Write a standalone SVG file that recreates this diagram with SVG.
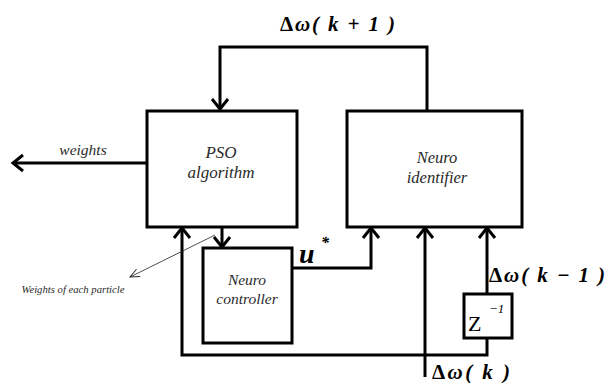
<svg xmlns="http://www.w3.org/2000/svg" width="613" height="383" viewBox="0 0 613 383">
  <style>
    text { font-family: "Liberation Serif", "Times New Roman", Tinos, "DejaVu Serif", serif; }
    .box { fill: #fff; stroke: #000; stroke-width: 3; }
    .wire { fill: none; stroke: #000; stroke-width: 3; }
    .thin { fill: none; stroke: #222; stroke-width: 0.8; }
    .lbl { font-style: italic; fill: #2a2a2a; text-anchor: middle; }
    .sig { font-style: italic; font-weight: bold; fill: #000; }
    .up { font-style: normal; }
  </style>
  <defs>
    <marker id="open" markerUnits="userSpaceOnUse" markerWidth="24" markerHeight="24" viewBox="-14 -12 18 24" refX="0" refY="0" orient="auto">
      <path d="M-10,-8 L0,0 L-10,8" fill="none" stroke="#000" stroke-width="3"/>
    </marker>
    <marker id="thinhead" markerUnits="userSpaceOnUse" markerWidth="14" markerHeight="14" viewBox="-10 -6 12 12" refX="0" refY="0" orient="auto">
      <path d="M-8,-3.5 L0,0 L-8,3.5" fill="none" stroke="#222" stroke-width="0.8"/>
    </marker>
  </defs>

  <g id="connectors">
    <polyline class="wire" points="427,110 427,47 220,47 220,109" marker-end="url(#open)"/>
    <line class="wire" x1="147" y1="163" x2="13" y2="163" marker-end="url(#open)"/>
    <line class="wire" x1="222" y1="227" x2="222" y2="247" marker-end="url(#open)"/>
    <polyline class="wire" points="292,268 371,268 371,228" marker-end="url(#open)"/>
    <line class="wire" x1="425" y1="377" x2="425" y2="228" marker-end="url(#open)"/>
    <line class="wire" x1="487" y1="294" x2="487" y2="228" marker-end="url(#open)"/>
    <polyline class="wire" points="487,338 487,355 182,355 182,228" marker-end="url(#open)"/>
    <line class="thin" x1="215" y1="235" x2="130" y2="277" marker-end="url(#thinhead)"/>
  </g>

  <g id="pso">
    <rect class="box" x="147" y="111" width="150" height="116"/>
    <text class="lbl" x="221" y="158" font-size="17">PSO</text>
    <text class="lbl" x="221" y="178" font-size="17">algorithm</text>
  </g>

  <g id="identifier">
    <rect class="box" x="347" y="111" width="175" height="116"/>
    <text class="lbl" x="437" y="163" font-size="16.5">Neuro</text>
    <text class="lbl" x="437" y="183" font-size="16.5">identifier</text>
  </g>

  <g id="controller">
    <rect class="box" x="203" y="248" width="89" height="95"/>
    <text class="lbl" x="247" y="285" font-size="15.5">Neuro</text>
    <text class="lbl" x="247" y="304" font-size="15.5">controller</text>
  </g>

  <g id="delay">
    <rect class="box" x="464" y="294" width="48" height="44"/>
    <text x="468" y="331" font-size="22" fill="#000">Z</text>
    <text x="489" y="313" font-style="italic" font-size="13" fill="#000">−1</text>
  </g>

  <g id="labels">
    <text class="sig" x="280" y="31" font-size="21" textLength="115" lengthAdjust="spacing"><tspan class="up">Δ</tspan>ω( k + 1 )</text>
    <text class="sig" x="489" y="282" font-size="21" textLength="116" lengthAdjust="spacing"><tspan class="up">Δ</tspan>ω( k − 1 )</text>
    <text class="sig" x="432" y="379" font-size="21" textLength="78" lengthAdjust="spacing"><tspan class="up">Δ</tspan>ω( k )</text>
    <text class="sig" x="299" y="263" font-size="28">u</text>
    <text class="sig" x="321" y="248" font-size="16">*</text>
    <text class="lbl" x="83" y="155" font-size="15.5">weights</text>
    <text class="lbl" x="73" y="293" font-size="10.5" textLength="103" lengthAdjust="spacingAndGlyphs">Weights of each particle</text>
  </g>
</svg>
